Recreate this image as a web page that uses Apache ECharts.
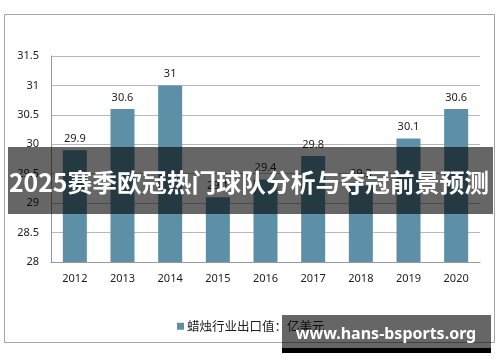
<!DOCTYPE html>
<html>
<head>
<meta charset="utf-8">
<script src="https://cdn.jsdelivr.net/npm/echarts@6/dist/echarts.min.js"></script>
<style>html,body{margin:0;padding:0;background:#fff;}#c{width:500px;height:362px;}</style>
</head>
<body>
<div id="c"></div>
<script>
const categories = ['2012','2013','2014','2015','2016','2017','2018','2019','2020'];
const values = [29.9, 30.6, 31, 29.1, 29.4, 29.8, 29.3, 30.1, 30.6];
const seriesName = '蜡烛行业出口值：亿美元';
const titleText = '2025赛季欧冠热门球队分析与夺冠前景预测';
const watermarkText = 'www.hans-bsports.org';

const chart = echarts.init(document.getElementById('c'), null, {renderer: 'canvas'});
chart.setOption({
  animation: false,
  backgroundColor: '#ffffff',
  grid: {left: 51, right: 20, top: 56, bottom: 100},
  legend: {
    left: 172, top: 315,
    icon: 'rect', itemWidth: 7, itemHeight: 7, itemGap: 4,
    textStyle: {fontFamily: 'Noto Sans CJK SC', fontSize: 12.5, color: '#222', padding: [0, 0, 0, -2]},
    data: [seriesName]
  },
  xAxis: {
    type: 'category', data: categories,
    axisLine: {lineStyle: {color: '#999', width: 1}},
    axisTick: {show: false},
    axisLabel: {fontFamily: 'Noto Sans', fontSize: 11, color: '#222', margin: 11}
  },
  yAxis: {
    type: 'value', min: 28, max: 31.5, interval: 0.5,
    axisLine: {show: true, lineStyle: {color: '#999', width: 1}},
    axisTick: {show: false},
    splitLine: {lineStyle: {color: '#b8b8b8', width: 1}},
    axisLabel: {fontFamily: 'Noto Sans', fontSize: 11, color: '#222', margin: 12}
  },
  series: [{
    name: seriesName, type: 'bar', data: values, barWidth: 24,
    itemStyle: {color: '#5d8fa7'},
    label: {show: true, position: 'top', distance: 6, fontFamily: 'Noto Sans', fontSize: 11, color: '#222'}
  }],
  graphic: [
    {type: 'rect', z: 0, silent: true, shape: {x: 4.5, y: 14.5, width: 490, height: 328}, style: {fill: 'none', stroke: '#a6a6a6', lineWidth: 1}},
    {type: 'rect', z: 100, silent: true, shape: {x: 8, y: 147, width: 485, height: 67}, style: {fill: 'rgba(0,0,0,0.6)'}},
    {type: 'text', z: 101, silent: true, x: 249, y: 183, style: {text: titleText, fill: '#fff', font: 'bold 24.8px "Noto Sans CJK SC"', textAlign: 'center', textVerticalAlign: 'middle'}},
    {type: 'rect', z: 100, silent: true, shape: {x: 282, y: 315, width: 209, height: 33}, style: {fill: 'rgba(0,0,0,0.6)'}},
    {type: 'rect', z: 100, silent: true, shape: {x: 282, y: 348, width: 209, height: 5}, style: {fill: '#000'}},
    {type: 'text', z: 101, silent: true, x: 386, y: 334, style: {text: watermarkText, fill: '#fff', font: 'bold 16px "Noto Sans"', textAlign: 'center', textVerticalAlign: 'middle'}}
  ]
});
</script>
</body>
</html>
